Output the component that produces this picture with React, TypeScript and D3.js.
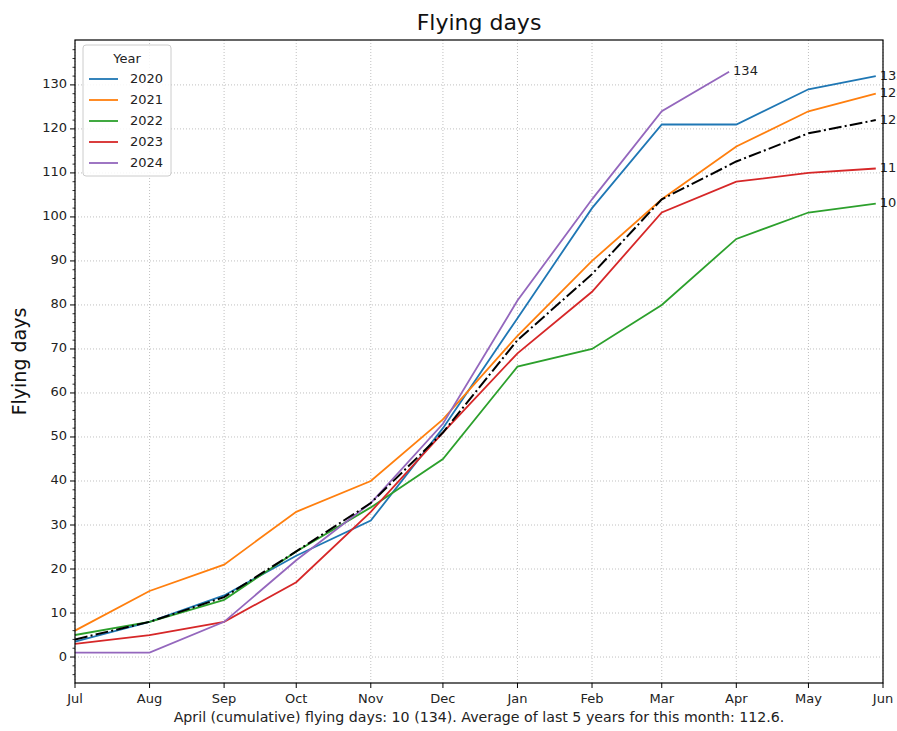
import React from "react";
import * as d3 from "d3";

// month starts for the season (Jul -> Jun)
const months = ["Jul", "Aug", "Sep", "Oct", "Nov", "Dec", "Jan", "Feb", "Mar", "Apr", "May", "Jun"];
const monthStarts = [
  "2023-07-01", "2023-08-01", "2023-09-01", "2023-10-01", "2023-11-01", "2023-12-01",
  "2024-01-01", "2024-02-01", "2024-03-01", "2024-04-01", "2024-05-01", "2024-06-01",
];
// the last point of each series sits a few days before its month tick
const pointDates = [
  "2023-07-01", "2023-08-01", "2023-09-01", "2023-10-01", "2023-11-01", "2023-12-01",
  "2024-01-01", "2024-02-01", "2024-03-01", "2024-04-01", "2024-05-01", "2024-05-29",
];
const pointDates2024 = [
  "2023-07-01", "2023-08-01", "2023-09-01", "2023-10-01", "2023-11-01", "2023-12-01",
  "2024-01-01", "2024-02-01", "2024-03-01", "2024-03-29",
];

const years = ["2020", "2021", "2022", "2023", "2024"];
const colors = ["#1f77b4", "#ff7f0e", "#2ca02c", "#d62728", "#9467bd"];

const days2020 = [3.5, 8, 14, 23, 31, 52, 77, 102, 121, 121, 129, 132];
const days2021 = [6, 15, 21, 33, 40, 54, 73, 90, 104, 116, 124, 128];
const days2022 = [5, 8, 13, 24, 34, 45, 66, 70, 80, 95, 101, 103];
const days2023 = [3, 5, 8, 17, 33, 51, 69, 83, 101, 108, 110, 111];
const days2024 = [1, 1, 8, 22, 35, 53, 81, 104, 124, 133];
const average5 = [4, 8, 13.6, 24, 35, 51, 72, 87, 104, 112.6, 119, 122];

const endLabels2024 = "134";
const yTicks = [0, 10, 20, 30, 40, 50, 60, 70, 80, 90, 100, 110, 120, 130];
const footer = "April (cumulative) flying days: 10 (134). Average of last 5 years for this month: 112.6.";

const parse = (s: string) => new Date(s + "T00:00:00Z");

export default function App() {
  const W = 897;
  const H = 731;
  const m = { left: 75, right: 883, top: 40, bottom: 683 };
  const font = "DejaVu Sans, sans-serif";

  const x = d3.scaleUtc().domain([parse(monthStarts[0]), parse(monthStarts[11])]).range([m.left, m.right]);
  const y = d3.scaleLinear().domain([-5.9, 140.2]).range([m.bottom, m.top]);

  const line = d3
    .line<[Date, number]>()
    .x((d) => x(d[0]))
    .y((d) => y(d[1]));

  const series = [days2020, days2021, days2022, days2023, days2024].map((vals, i) => {
    const dates = i === 4 ? pointDates2024 : pointDates;
    return {
      name: years[i],
      color: colors[i],
      pts: vals.map((v, j) => [parse(dates[j]), v] as [Date, number]),
      label: i === 4 ? endLabels2024 : String(Math.round(vals[vals.length - 1])),
    };
  });
  const avgPts = average5.map((v, j) => [parse(pointDates[j]), v] as [Date, number]);
  const minorY = d3.range(-4, 141, 2).filter((v) => v % 10 !== 0);

  return (
    <svg width={W} height={H} style={{ position: "absolute", left: 0, top: 0, background: "#fff" }} fontFamily={font}>
      <defs>
        <clipPath id="plot">
          <rect x={m.left} y={m.top} width={m.right - m.left} height={m.bottom - m.top} />
        </clipPath>
      </defs>
      {/* grid */}
      <g stroke="#b0b0b0" strokeWidth={0.8} strokeDasharray="1 2">
        {yTicks.map((t) => (
          <line key={"gy" + t} x1={m.left} x2={m.right} y1={y(t)} y2={y(t)} />
        ))}
        {monthStarts.map((d) => (
          <line key={"gx" + d} x1={x(parse(d))} x2={x(parse(d))} y1={m.top} y2={m.bottom} />
        ))}
      </g>
      {/* lines */}
      <g clipPath="url(#plot)" fill="none">
        {series.map((s) => (
          <path key={s.name} d={line(s.pts) || ""} stroke={s.color} strokeWidth={1.8} />
        ))}
        <path d={line(avgPts) || ""} stroke="#000" strokeWidth={2} strokeDasharray="12.8 3.2 2 3.2" />
      </g>
      {/* end labels */}
      <g fontSize={13} fill="#222" dominantBaseline="middle">
        {series.map((s) => {
          const p = s.pts[s.pts.length - 1];
          return (
            <text key={"l" + s.name} x={x(p[0]) + 4} y={y(p[1])}>
              {s.label}
            </text>
          );
        })}
        <text x={x(avgPts[avgPts.length - 1][0]) + 4} y={y(avgPts[avgPts.length - 1][1])}>
          {Math.round(average5[average5.length - 1])}
        </text>
      </g>
      {/* frame */}
      <rect x={m.left} y={m.top} width={m.right - m.left} height={m.bottom - m.top} fill="none" stroke="#000" strokeWidth={1.2} />
      {/* axes */}
      <g fontSize={13} fill="#222">
        {yTicks.map((t) => (
          <g key={"ty" + t}>
            <line x1={m.left - 5} x2={m.left} y1={y(t)} y2={y(t)} stroke="#000" strokeWidth={1} />
            <text x={m.left - 8} y={y(t)} textAnchor="end" dominantBaseline="middle">
              {t}
            </text>
          </g>
        ))}
        {minorY.map((t) => (
          <line key={"my" + t} x1={m.left - 2.5} x2={m.left} y1={y(t)} y2={y(t)} stroke="#000" strokeWidth={0.8} />
        ))}
        {monthStarts.map((d, i) => (
          <g key={"tx" + d}>
            <line x1={x(parse(d))} x2={x(parse(d))} y1={m.bottom} y2={m.bottom + 5} stroke="#000" strokeWidth={1} />
            <text x={x(parse(d))} y={m.bottom + 20} textAnchor="middle">
              {months[i]}
            </text>
          </g>
        ))}
      </g>
      {/* titles */}
      <text x={(m.left + m.right) / 2} y={30} textAnchor="middle" fontSize={22} fill="#111">
        Flying days
      </text>
      <text transform={`translate(26,${(m.top + m.bottom) / 2}) rotate(-90)`} textAnchor="middle" fontSize={19} fill="#111">
        Flying days
      </text>
      <text x={(m.left + m.right) / 2} y={722} textAnchor="middle" fontSize={14.2} fill="#222">
        {footer}
      </text>
      {/* legend */}
      <g>
        <rect x={83} y={45} width={88} height={131} rx={3} fill="#fff" fillOpacity={0.85} stroke="#ccc" strokeWidth={1} />
        <text x={127} y={63} textAnchor="middle" fontSize={13} fill="#222">
          Year
        </text>
        {series.map((s, i) => (
          <g key={"lg" + s.name} transform={`translate(0,${79 + i * 21})`}>
            <line x1={89} x2={118} y1={0} y2={0} stroke={s.color} strokeWidth={1.8} />
            <text x={130} y={0} dominantBaseline="middle" fontSize={13} fill="#222">
              {s.name}
            </text>
          </g>
        ))}
      </g>
    </svg>
  );
}
